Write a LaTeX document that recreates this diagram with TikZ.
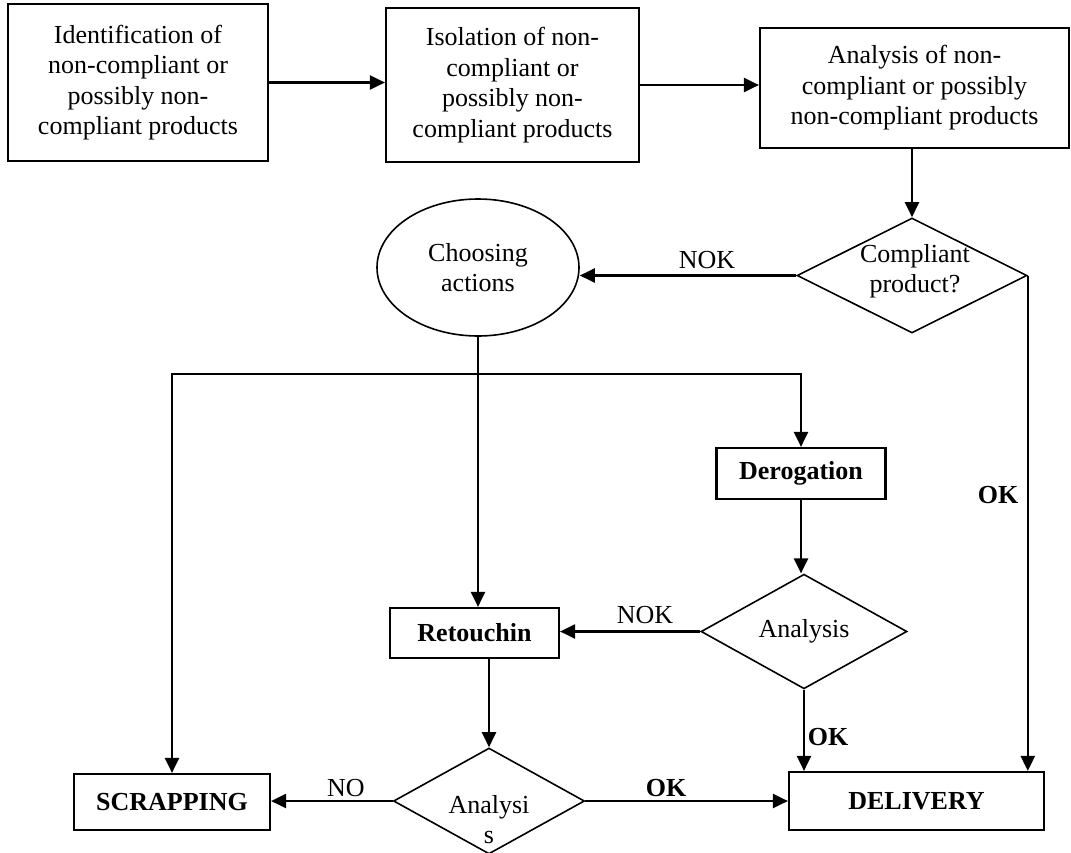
\documentclass[tikz,border=0pt]{standalone}
\usepackage{fontspec}
\setmainfont{Liberation Serif}
\usetikzlibrary{shapes.geometric,arrows.meta}
\begin{document}
\begin{tikzpicture}[x=1pt,y=-1pt,
  font=\fontsize{26}{30.5}\selectfont,
  box/.style={draw,line width=2.2pt,inner sep=0pt,align=center},
  dia/.style={draw,diamond,line width=1.6pt,inner sep=0pt,align=center},
  arr/.style={line width=2.2pt,-{Triangle[length=15pt,width=14pt]}},
  lbl/.style={inner sep=0pt,align=center},
  blbl/.style={inner sep=0pt,font=\fontsize{26}{30.5}\selectfont\bfseries}
]
\useasboundingbox (0,0) rectangle (1071,852);

% top row
\node[box,minimum width=260pt,minimum height=157pt] (b1) at (138,82.5)
  {Identification of\\non-compliant or\\possibly non-\\compliant products};
\node[box,minimum width=253pt,minimum height=154pt] (b2) at (512.5,85)
  {Isolation of non-\\compliant or\\possibly non-\\compliant products};
\node[box,minimum width=309pt,minimum height=120pt] (b3) at (914.5,88)
  {Analysis of non-\\compliant or possibly\\non-compliant products};

% decision 1
\node[dia,minimum width=230pt,minimum height=115pt] (d1) at (912,275.5) {};
\node[lbl] (d1t) at (915,271) {Compliant\\product?};

% choosing actions
\node[draw,ellipse,line width=1.6pt,inner sep=0pt,align=center,
  minimum width=202pt,minimum height=137pt] (e) at (478,267.5) {Choosing\\actions};

% action boxes
\node[box,minimum width=169pt,minimum height=51pt,font=\fontsize{26}{30.5}\selectfont\bfseries] (dg) at (801,473.5) {Derogation};
\node[box,minimum width=169pt,minimum height=50pt,font=\fontsize{26}{30.5}\selectfont\bfseries] (r) at (474.5,633) {Retouchin};
\node[box,minimum width=196pt,minimum height=56pt,font=\fontsize{26}{30.5}\selectfont\bfseries] (s) at (172,802) {SCRAPPING};
\node[box,minimum width=255pt,minimum height=58pt,font=\fontsize{26}{30.5}\selectfont\bfseries] (dl) at (916.5,801) {DELIVERY};

% decisions 2 and 3
\node[dia,minimum width=206pt,minimum height=109pt] (d2) at (804,631.5) {Analysis};
\node[dia,minimum width=191pt,minimum height=106pt] (d3) at (489,801) {};
\node[lbl] (d3t) at (489,819.5) {Analysi\\s};

% branch coordinates
\coordinate (hl) at (172,374);
\coordinate (hr) at (801,374);

% connectors
\draw[arr] (b1.east) -- (b1.east -| b2.west);
\draw[arr] (b2.east) -- (b2.east -| b3.west);
\draw[arr] (d1.north |- b3.south) -- (d1.north);
\draw[arr] (d1.west) -- (e.east |- d1.west);
\draw[line width=2.2pt] (e.south) -- (e.south |- hl);
\draw[arr] (e.south |- hl) -- (e.south |- r.north);
\draw[arr] (hr) -- (hl) -- (s.north);
\draw[arr] (hl) -- (hr) -- (dg.north);
\draw[arr] (dg.south) -- (dg.south |- d2.north);
\draw[arr] (d2.west) -- (d2.west -| r.east);
\draw[arr] (r.south -| d3.north) -- (d3.north);
\draw[arr] (d3.west) -- (d3.west -| s.east);
\draw[arr] (d3.east) -- (d3.east -| dl.west);
\draw[arr] (d2.south) -- (d2.south |- dl.north);
\draw[arr] (d1.east) -- (d1.east |- dl.north);

% labels
\node[lbl] (nok1) at (707,260) {NOK};
\node[lbl] (nok2) at (645,615) {NOK};
\node[lbl] (no) at (346,788) {NO};
\node[blbl] (ok1) at (998,495) {OK};
\node[blbl] (ok2) at (828,737) {OK};
\node[blbl] (ok3) at (666,788) {OK};
\end{tikzpicture}
\end{document}
